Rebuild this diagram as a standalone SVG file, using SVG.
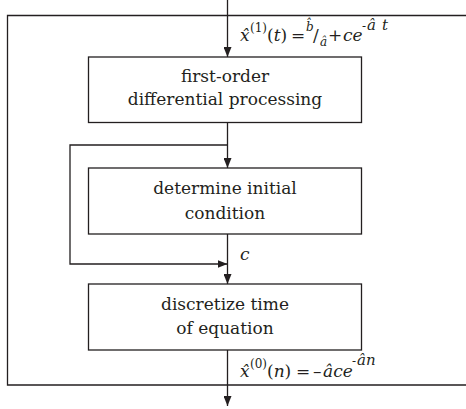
<svg xmlns="http://www.w3.org/2000/svg" width="466" height="409" viewBox="0 0 466 409">
<style>
.box{fill:#fff;stroke:#231f20;stroke-width:1.3}
.ln{fill:none;stroke:#231f20;stroke-width:1.3}
text{font-family:'DejaVu Serif',serif;fill:#231f20}
.t{font-size:17px;text-anchor:middle}
.m{font-size:17px}
.i{font-style:italic}
.s{font-size:12px}
</style>
<defs>
<marker id="ah" viewBox="0 0 10 8" refX="10" refY="4" markerWidth="10" markerHeight="8" markerUnits="userSpaceOnUse" orient="auto">
<path d="M0,0 L10,4 L0,8 Z" fill="#231f20"/>
</marker>
</defs>
<g id="frame">
<path class="ln" d="M467,15.5 H7.5 V385 H467"/>
</g>
<g id="connectors">
<line class="ln" x1="227.5" y1="0" x2="227.5" y2="57" marker-end="url(#ah)"/>
<line class="ln" x1="227.5" y1="122.5" x2="227.5" y2="168" marker-end="url(#ah)"/>
<polyline class="ln" points="227.5,145 70,145 70,264 227.5,264" marker-end="url(#ah)"/>
<line class="ln" x1="227.5" y1="234" x2="227.5" y2="284" marker-end="url(#ah)"/>
<line class="ln" x1="227.5" y1="350" x2="227.5" y2="406" marker-end="url(#ah)"/>
</g>
<g id="node-differential">
<rect class="box" x="88.5" y="57" width="273" height="65.5"/>
<text class="t" x="225" y="82">first-order</text>
<text class="t" x="225" y="104.5">differential processing</text>
</g>
<g id="node-initial">
<rect class="box" x="88.5" y="168" width="273" height="66"/>
<text class="t" x="225" y="193.5">determine initial</text>
<text class="t" x="225" y="218.5">condition</text>
</g>
<g id="node-discretize">
<rect class="box" x="88.5" y="284" width="273" height="66"/>
<text class="t" x="225" y="309.5">discretize time</text>
<text class="t" x="225" y="334">of equation</text>
</g>
<g id="labels">
<text class="m" y="40.5"><tspan class="i" x="240">x̂</tspan><tspan class="s" x="250" y="32">(1)</tspan><tspan x="267" y="40.5">(</tspan><tspan class="i">t</tspan><tspan>)</tspan><tspan x="291">=</tspan><tspan class="i s" x="306" y="31">b̂</tspan><tspan x="313" y="40.5">/</tspan><tspan class="i s" x="320" y="46">â</tspan><tspan x="328" y="40.5">+</tspan><tspan class="i" x="343">ce</tspan><tspan class="s" x="362" y="30">-</tspan><tspan class="i" x="367" y="30" font-size="15">â</tspan><tspan class="i" x="382" y="30" font-size="15">t</tspan></text>
<text class="m i" x="240" y="260">c</text>
<text class="m" y="377"><tspan class="i" x="240">x̂</tspan><tspan class="s" x="250" y="368">(0)</tspan><tspan x="267" y="377">(</tspan><tspan class="i">n</tspan><tspan>)</tspan><tspan x="296">=</tspan><tspan x="313">–</tspan><tspan class="i" x="323">âce</tspan><tspan class="s" x="352" y="365">-</tspan><tspan class="i" x="357" y="365" font-size="15">ân</tspan></text>
</g>
</svg>
